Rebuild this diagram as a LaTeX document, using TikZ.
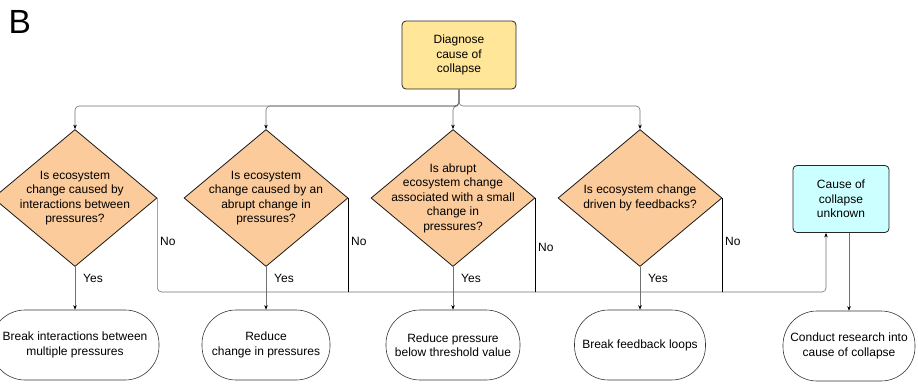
\documentclass[tikz,border=0pt]{standalone}
\usepackage{fontspec}
\setmainfont{Liberation Sans}
\usetikzlibrary{shapes.geometric,arrows.meta}

\definecolor{diagfill}{HTML}{FFE699}
\definecolor{questfill}{HTML}{FBCB9B}
\definecolor{unknownfill}{HTML}{CCFFFF}
\definecolor{linegray}{HTML}{707070}

\begin{document}
\begin{tikzpicture}[x=1pt, y=-1pt,
        every node/.style={font=\fontsize{12}{14.5}\selectfont},
        startbox/.style={draw=black!85, fill=diagfill, rounded corners=4pt, line width=0.8pt,
            align=center, inner sep=0pt, minimum width=114pt, minimum height=68pt},
        unknownbox/.style={draw=black!85, fill=unknownfill, rounded corners=4pt, line width=0.8pt,
            align=center, inner sep=0pt, minimum width=96pt, minimum height=67pt},
        question/.style={diamond, draw=black!90, fill=questfill, line width=0.8pt,
            inner sep=0pt, minimum width=164pt, minimum height=137pt},
        qtext/.style={align=center, inner sep=0pt},
        action/.style={draw=black!80, rounded corners=34pt, line width=0.6pt,
            align=center, inner sep=0pt, minimum height=70pt},
        arrow/.style={draw=linegray, line width=0.6pt, rounded corners=4pt,
            -{Stealth[length=4.5pt, width=3.5pt, black]}},
        noline/.style={draw=black, line width=1.1pt}
    ]
        % Fix the size of the picture to the reference
        \useasboundingbox (0,0) rectangle (918,383);

        % Panel letter
        \node[anchor=north west, inner sep=0pt, font=\fontsize{33.5}{40}\selectfont] (panel) at (8.5,10) {B};

        % Start box and the point where the branches split
        \node[startbox] (diag) at (459,55) {Diagnose\\cause of\\collapse};
        \coordinate (split) at (459,106);

        % Unknown cause box and the bus that feeds it
        \node[unknownbox] (cause) at (841,199) {Cause of\\collapse\\unknown};
        \coordinate (bus) at (826,292);
        \coordinate (in) at ([xshift=-15pt]cause.south);
        \coordinate (out) at ([xshift=8pt]cause.south);

        % Questions, their actions and the Yes / No labels
        \foreach[count=\i] \xpos/\aw/\nopos/\question/\action in {
            75/168/241/{Is ecosystem\\change caused by\\interactions between\\pressures?}/{Break interactions between\\multiple pressures},
            266/128/241/{Is ecosystem\\change caused by an\\abrupt change in\\pressures?}/{Reduce\\change in pressures},
            453/134/247/{Is abrupt\\ecosystem change\\associated with a small\\change in\\pressures?}/{Reduce pressure\\below threshold value},
            640/131/241/{Is ecosystem change\\driven by feedbacks?}/{Break feedback loops}}{
            \node[question, label={[qtext]center:\question}] (q\i) at (\xpos,198) {};
            \node[action, minimum width=\aw pt] (a\i) at (\xpos,345) {\action};
            \draw[arrow] (diag.south) -- (split) -| (q\i.north);
            \draw[arrow] (q\i.south) -- (a\i.north);
            \node[anchor=west, inner sep=0pt] (yes\i) at (\xpos+8,278) {Yes};
            \node[anchor=west, inner sep=0pt] (no\i) at (\xpos+85,\nopos) {No};
        }

        % No branches join the bus to the unknown cause box
        \draw[arrow] (q1.east) |- (bus) -- (in);
        \foreach \i in {2,3,4} {
            \draw[noline] (q\i.east) -- (q\i.east |- bus);
        }

        % Last action
        \node[action, minimum width=132pt] (a5) at (849,346) {Conduct research into\\cause of collapse};
        \draw[arrow] (out) -- (a5.north);
    \end{tikzpicture}
\end{document}
